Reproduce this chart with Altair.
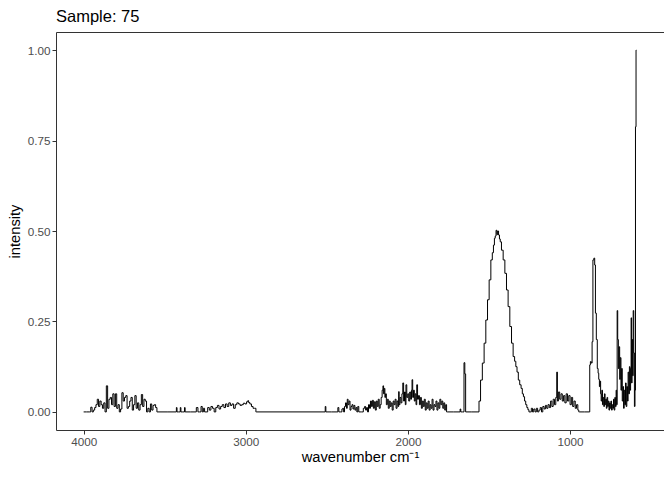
import altair as alt
import pandas as pd

# ---- spectrum, region by region (wavenumber cm-1, intensity) ----
wn_start = [4000, 3964]
in_start = [0, 0]

wn_oh = [3960, 3952, 3944, 3936, 3928, 3920, 3912, 3904, 3896, 3888, 3880, 3872, 3864, 3856,
         3848, 3840, 3832, 3824, 3816, 3808, 3800, 3792, 3784, 3776, 3768, 3760, 3752, 3744,
         3736, 3728, 3720, 3712, 3704, 3696, 3688, 3680, 3672, 3664, 3656, 3648, 3640, 3632,
         3624, 3616, 3608, 3600, 3592, 3584, 3576, 3568, 3560, 3552, 3544]
in_oh = [0.0, 0.013, 0.0, 0.005, 0.012, 0.02, 0.035, 0.015, 0.03, 0.02, 0.01, 0.025, 0.0, 0.072,
         0.01, 0.035, 0.04, 0.02, 0.05, 0.015, 0.05, 0.01, 0.02, 0.0, 0.008, 0.053, 0.03, 0.04,
         0.045, 0.01, 0.015, 0.03, 0.04, 0.005, 0.02, 0.045, 0.01, 0.025, 0.005, 0.02, 0.048, 0.015,
         0.035, 0.03, 0.0, 0.01, 0.0, 0.022, 0.005, 0.018, 0.02, 0.012, 0.0]

wn_gap1 = [3540, 3430, 3426, 3422, 3406, 3402, 3398, 3380, 3376, 3372]
in_gap1 = [0, 0, 0.012, 0, 0, 0.012, 0, 0, 0.012, 0]

wn_ch = [3310, 3300, 3290, 3280, 3272, 3265, 3258, 3250, 3240, 3230, 3220, 3210, 3200, 3190,
         3180, 3170, 3160, 3150, 3140, 3130, 3120, 3110, 3100, 3090, 3080, 3070, 3060, 3050,
         3040, 3030, 3020, 3010, 3000, 2990, 2985, 2980, 2970, 2960, 2950, 2940, 2935]
in_ch = [0, 0.012, 0, 0, 0.015, 0, 0.01, 0, 0, 0.012, 0.005, 0.015, 0.01, 0,
         0.012, 0.018, 0.008, 0.015, 0.02, 0.012, 0.022, 0.015, 0.025, 0.018, 0.022, 0.01, 0.02, 0.025,
         0.022, 0.018, 0.02, 0.024, 0.022, 0.028, 0.031, 0.026, 0.022, 0.015, 0.01, 0.01, 0]

wn_gap2 = [2930, 2512, 2508, 2504, 2440]
in_gap2 = [0, 0, 0.015, 0, 0]

wn_mid = [2435, 2429, 2423, 2410, 2404, 2399, 2394, 2388, 2382, 2376, 2372, 2366, 2360, 2354,
          2348, 2342, 2336, 2330, 2324, 2318, 2312, 2306, 2300, 2290, 2280, 2270, 2264, 2258,
          2252, 2246, 2240, 2234, 2228, 2222, 2216, 2210, 2204, 2198, 2192, 2186, 2180, 2174,
          2168, 2162, 2156, 2152, 2148, 2144, 2140, 2136, 2130, 2124, 2118, 2112, 2106, 2100,
          2094, 2088, 2082, 2076, 2070, 2064, 2058, 2056, 2052, 2046, 2040, 2034, 2029, 2024,
          2018, 2014, 2010, 2004, 1998, 1992, 1986, 1980, 1976, 1973, 1968, 1963, 1958, 1952,
          1948, 1943, 1938, 1932, 1926, 1920, 1914, 1908, 1902, 1896, 1890, 1884, 1878, 1872,
          1866, 1860, 1854, 1848, 1842, 1836, 1830, 1824, 1818, 1812, 1806, 1800, 1794, 1788,
          1782, 1776, 1770, 1764, 1759]
in_mid = [0.0, 0.012, 0, 0, 0.008, 0.01, 0, 0.015, 0.025, 0.01, 0.035, 0.02, 0.03, 0.005,
          0.015, 0.02, 0.008, 0.018, 0.005, 0.012, 0, 0.015, 0, 0, 0, 0.01, 0.015, 0.005,
          0.012, 0, 0.02, 0.01, 0.03, 0.015, 0.032, 0.01, 0.028, 0.005, 0.03, 0.015, 0.035, 0.01,
          0.02, 0.04, 0.06, 0.072, 0.05, 0.065, 0.04, 0.05, 0.02, 0.035, 0.01, 0.03, 0.015, 0.025,
          0.005, 0.03, 0.02, 0.035, 0.01, 0.03, 0.015, 0.056, 0.02, 0.04, 0.025, 0.05, 0.08, 0.03,
          0.055, 0.02, 0.075, 0.04, 0.05, 0.03, 0.055, 0.035, 0.06, 0.089, 0.04, 0.06, 0.03, 0.05,
          0.02, 0.075, 0.035, 0.045, 0.02, 0.04, 0.01, 0.03, 0.015, 0.035, 0.005, 0.025, 0.01, 0.03,
          0.005, 0.02, 0.01, 0.035, 0.005, 0.02, 0.015, 0.03, 0.005, 0.025, 0.01, 0.035, 0.02, 0.03,
          0.01, 0.025, 0.005, 0.02, 0]

wn_gap3 = [1755, 1680, 1676, 1672, 1656, 1652, 1646, 1642, 1570]
in_gap3 = [0, 0, 0.008, 0, 0, 0.136, 0.105, 0, 0]

wn_peak = [1566, 1557, 1547, 1535, 1525, 1514, 1504, 1494, 1483, 1476, 1469, 1464, 1459, 1454,
           1449, 1444, 1438, 1433, 1428, 1418, 1407, 1397, 1387, 1377, 1366, 1356, 1346, 1338,
           1331, 1323, 1315, 1306, 1298, 1291, 1284, 1277, 1270, 1263, 1257, 1250]
in_peak = [0, 0.03, 0.088, 0.135, 0.19, 0.254, 0.31, 0.365, 0.42, 0.44, 0.461, 0.48, 0.486, 0.502,
           0.49, 0.5, 0.489, 0.478, 0.47, 0.447, 0.42, 0.383, 0.337, 0.291, 0.236, 0.19, 0.153, 0.14,
           0.125, 0.11, 0.088, 0.075, 0.065, 0.05, 0.042, 0.03, 0.02, 0.012, 0.006, 0]

wn_low = [1243, 1235, 1228, 1220, 1212, 1204, 1196, 1188, 1180, 1172, 1164, 1156, 1148, 1140,
          1132, 1124, 1116, 1108, 1100, 1092, 1084, 1080, 1076, 1068, 1060, 1052, 1044, 1036,
          1028, 1020, 1012, 1004, 996, 988, 980, 972, 964, 956, 948, 944]
in_low = [0, 0.01, 0, 0.008, 0, 0.01, 0, 0.005, 0.012, 0, 0.015, 0.008, 0.018, 0.01,
          0.02, 0.012, 0.03, 0.015, 0.035, 0.02, 0.04, 0.11, 0.03, 0.055, 0.035, 0.05, 0.03, 0.045,
          0.025, 0.05, 0.03, 0.045, 0.02, 0.04, 0.015, 0.03, 0.01, 0.02, 0.005, 0]

wn_end = [940, 880, 877, 872, 866, 862, 856, 850, 846, 841, 835, 829, 825, 821, 817, 813, 810,
          806, 802, 798, 794, 790, 786, 782, 778, 774, 770, 766, 762, 758, 754, 750, 746, 742,
          738, 734, 730, 726, 722, 718, 714, 711, 708, 704, 700, 696, 692, 688, 684, 680, 676,
          672, 668, 664, 660, 656, 652, 648, 644, 640, 636, 632, 628, 625, 622, 619, 616, 612,
          609, 605, 601, 598, 595, 591]
in_end = [0, 0, 0.13, 0.139, 0.135, 0.194, 0.42, 0.425, 0.406, 0.273, 0.2, 0.12, 0.107, 0.09, 0.07, 0.085, 0.05,
          0.03, 0.06, 0.02, 0.04, 0.015, 0.05, 0.02, 0.035, 0.01, 0.04, 0.015, 0.03, 0.005, 0.025, 0.01, 0.03, 0.005,
          0.02, 0.01, 0.035, 0.005, 0.04, 0.015, 0.06, 0.02, 0.28, 0.2, 0.12, 0.18, 0.09, 0.15, 0.06, 0.12, 0.03,
          0.07, 0.01, 0.06, 0.02, 0.08, 0.015, 0.07, 0.03, 0.11, 0.05, 0.125, 0.06, 0.12, 0.26, 0.08, 0.2, 0.1,
          0.28, 0.163, 0.015, 0.06, 0.788, 1.0]

x_ticks = [1000, 2000, 3000, 4000]
y_ticks = [0, 0.25, 0.5, 0.75, 1.0]

segments = [(wn_start, in_start), (wn_oh, in_oh), (wn_gap1, in_gap1), (wn_ch, in_ch),
            (wn_gap2, in_gap2), (wn_mid, in_mid), (wn_gap3, in_gap3), (wn_peak, in_peak),
            (wn_low, in_low), (wn_end, in_end)]
wavenumber, intensity = [], []
for w, v in segments:
    assert len(w) == len(v), (w[0], len(w), len(v))
    wavenumber += w
    intensity += v

df = pd.DataFrame({"wavenumber": wavenumber, "intensity": intensity})

xmin, xmax = min(wavenumber), max(wavenumber)
pad = 0.05 * (xmax - xmin)

FONT = "Liberation Sans"

chart = (
    alt.Chart(df)
    .mark_line(color="black", strokeWidth=1, interpolate="step")
    .encode(
        x=alt.X("wavenumber:Q",
                scale=alt.Scale(domain=[xmin - pad, xmax + pad], reverse=True, nice=False, zero=False),
                axis=alt.Axis(values=x_ticks, format="d", title="wavenumber cm⁻¹")),
        y=alt.Y("intensity:Q",
                scale=alt.Scale(domain=[-0.05, 1.05], nice=False, zero=False),
                axis=alt.Axis(values=y_ticks, format=".2f", title="intensity")),
    )
    .properties(
        width=608, height=398,
        title=alt.TitleParams("Sample: 75", anchor="start", frame="group", fontSize=16.5, font=FONT,
                              fontWeight="normal", color="black", offset=7),
        autosize=alt.AutoSizeParams(type="none"),
        padding={"left": 48, "top": 24, "right": 0, "bottom": 35},
    )
    .configure_view(stroke="#333333", strokeWidth=1)
    .configure_axis(
        domain=False, grid=False,
        tickColor="#333333", tickSize=4, tickWidth=1,
        labelColor="#4D4D4D", labelFont=FONT, labelFontSize=11.7, labelPadding=2,
        titleFont=FONT, titleFontSize=14.7, titleColor="black", titleFontWeight="normal",
    )
    .configure_axisX(titlePadding=2)
    .configure_axisY(titlePadding=5)
)

chart.save("out.html", embed_options={"renderer": "svg", "actions": False})
